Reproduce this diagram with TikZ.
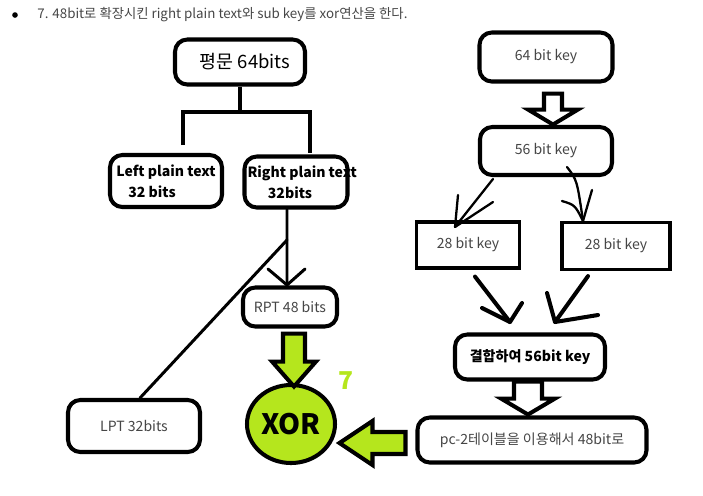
\documentclass[tikz,border=0pt]{standalone}
\usepackage{fontspec}
\setmainfont{Noto Sans CJK KR}
\usetikzlibrary{positioning,arrows.meta,shapes.geometric}

\definecolor{limegreen}{RGB}{181,230,29}
\definecolor{txtgray}{RGB}{70,70,70}

\tikzset{
  rbox/.style 2 args={draw,line width=2.3pt,rounded corners=7pt,fill=white,
    minimum width=#1*0.02cm,minimum height=#2*0.02cm,inner sep=1pt,
    font=\fontsize{8}{10}\selectfont,text=txtgray},
  sbox/.style 2 args={draw,line width=1.8pt,fill=white,
    minimum width=#1*0.02cm,minimum height=#2*0.02cm,inner sep=1pt,
    font=\fontsize{8}{10}\selectfont,text=txtgray},
  boldtxt/.style={font=\fontsize{8}{12}\selectfont\bfseries,text=black,align=center},
  tline/.style={line width=2.3pt},
  midline/.style={line width=1.7pt,line cap=round,line join=round},
  hand/.style={line width=1.3pt,line cap=round,line join=round},
  heavyhand/.style={line width=2.3pt,line cap=round,line join=round},
  greenarrow/.style={draw,line width=2.3pt,fill=limegreen,line join=miter},
  whitearrow/.style={draw,line width=2.3pt,fill=white,line join=miter}
}

\begin{document}
\begin{tikzpicture}[x=0.02cm,y=-0.02cm]
  \useasboundingbox (0,0) rectangle (703,495);

  % heading line
  \node[circle,fill=black,inner sep=0pt,minimum size=3.2pt] (dot) at (15,15) {};
  \node[anchor=west,inner sep=0pt,font=\fontsize{7.6}{9}\selectfont,text=txtgray] (title) at (37,15)
    {7. 48bit로 확장시킨 right plain text와 sub key를 xor연산을 한다.};

  % plain text side
  \node[rbox={130}{45},font=\fontsize{10.5}{12}\selectfont,text=black] (plain) at (240,62) {\hspace{0.2cm}평문 64bits};
  \node[rbox={112}{52},boldtxt] (lpt0) at (166,181) {Left plain text\\32 bits\hspace*{0.56cm}};
  \node[rbox={103}{51},boldtxt] (rpt0) at (296,182) {\makebox[1.9cm]{\hspace{0.25cm}Right plain text}\\32bits\hspace*{0.24cm}};
  \node[rbox={94}{39}] (rpt) at (290,307) {RPT 48 bits};
  \node[rbox={132}{52}] (lpt) at (134,426) {LPT 32bits};
  \node[ellipse,draw,line width=2.3pt,fill=limegreen,minimum width=88*0.02cm,minimum height=78*0.02cm,
    inner sep=0pt,font=\fontsize{16}{18}\selectfont\bfseries] (xor) at (291,424) {XOR};
  \node[font=\fontsize{14}{16}\selectfont\bfseries,text=limegreen] (step) at (346,381) {7};

  \coordinate (fork) at (240,112);
  \coordinate (lfoot) at (183,145);
  \coordinate (rfoot) at (310,153);
  \draw[tline] (plain.south) -- (fork);
  \draw[tline] (lfoot) |- (fork) -| (rfoot);

  \coordinate (split) at (287,240);
  \coordinate (tiprpt) at (287,285);
  \draw[midline] ([xshift=-0.18cm]rpt0.south) -- (tiprpt);
  \draw[midline] (tiprpt) ++(-19,-16) -- (tiprpt) -- ++(18,-16);
  \draw[midline] (split) -- ([xshift=0.12cm]lpt.north);

  % key side
  \node[rbox={133}{49}] (k64) at (546,57) {64 bit key};
  \node[rbox={132}{48}] (k56) at (546,151) {56 bit key};
  \node[sbox={103}{46}] (k28a) at (468,245) {28 bit key};
  \node[sbox={108}{47}] (k28b) at (616,246) {28 bit key};
  \node[rbox={150}{45},boldtxt] (join) at (530,357) {결합하여 56bit key};
  \node[rbox={229}{45}] (pc2) at (532,440) {pc-2테이블을 이용해서 48bit로};

  \draw[whitearrow] (k64.south) ++(-2,10) -- ++(18,0) -- ++(0,16) -- ++(16,0)
    -- ++(-25,15) -- ++(-25,-15) -- ++(16,0) -- cycle;

  \coordinate (tipa) at (455,227);
  \coordinate (tipb) at (583,221);
  \draw[hand] ([shift={(15,2)}]k56.south west) -- (tipa);
  \draw[hand] (tipa) ++(3,-32) -- (tipa) -- ++(38,-25);
  \draw[hand] ([shift={(21,16)}]k56.center) .. controls (577,180) .. (tipb);
  \draw[hand] (tipb) ++(-21,-20) .. controls (575,205) .. (tipb) -- ++(9,-31);

  \coordinate (tipc) at (510,322);
  \coordinate (tipd) at (555,322);
  \draw[heavyhand] ([shift={(7,7)}]k28a.south) -- (tipc);
  \draw[heavyhand] (tipc) ++(-28,-14) -- (tipc) -- ++(12,-19);
  \draw[heavyhand] ([shift={(-28,5)}]k28b.south) -- (tipd);
  \draw[heavyhand] (tipd) ++(-8,-29) -- (tipd) -- ++(43,-7);

  \draw[whitearrow] (join.south) ++(-16,0) -- ++(28,0) -- ++(0,17) -- ++(13,0)
    -- ++(-27,16) -- ++(-27,-16) -- ++(13,0) -- cycle;

  % green block arrows into xor
  \draw[greenarrow] (rpt.south) ++(-7,5) -- ++(22,0) -- ++(0,28) -- ++(11,0)
    -- ++(-22,25) -- ++(-22,-25) -- ++(11,0) -- cycle;
  \draw[greenarrow] (pc2.west) ++(-10,-8) -- ++(-33,0) -- ++(0,-11) -- ++(-33,22)
    -- ++(33,22) -- ++(0,-11) -- ++(33,0) -- cycle;
\end{tikzpicture}
\end{document}
